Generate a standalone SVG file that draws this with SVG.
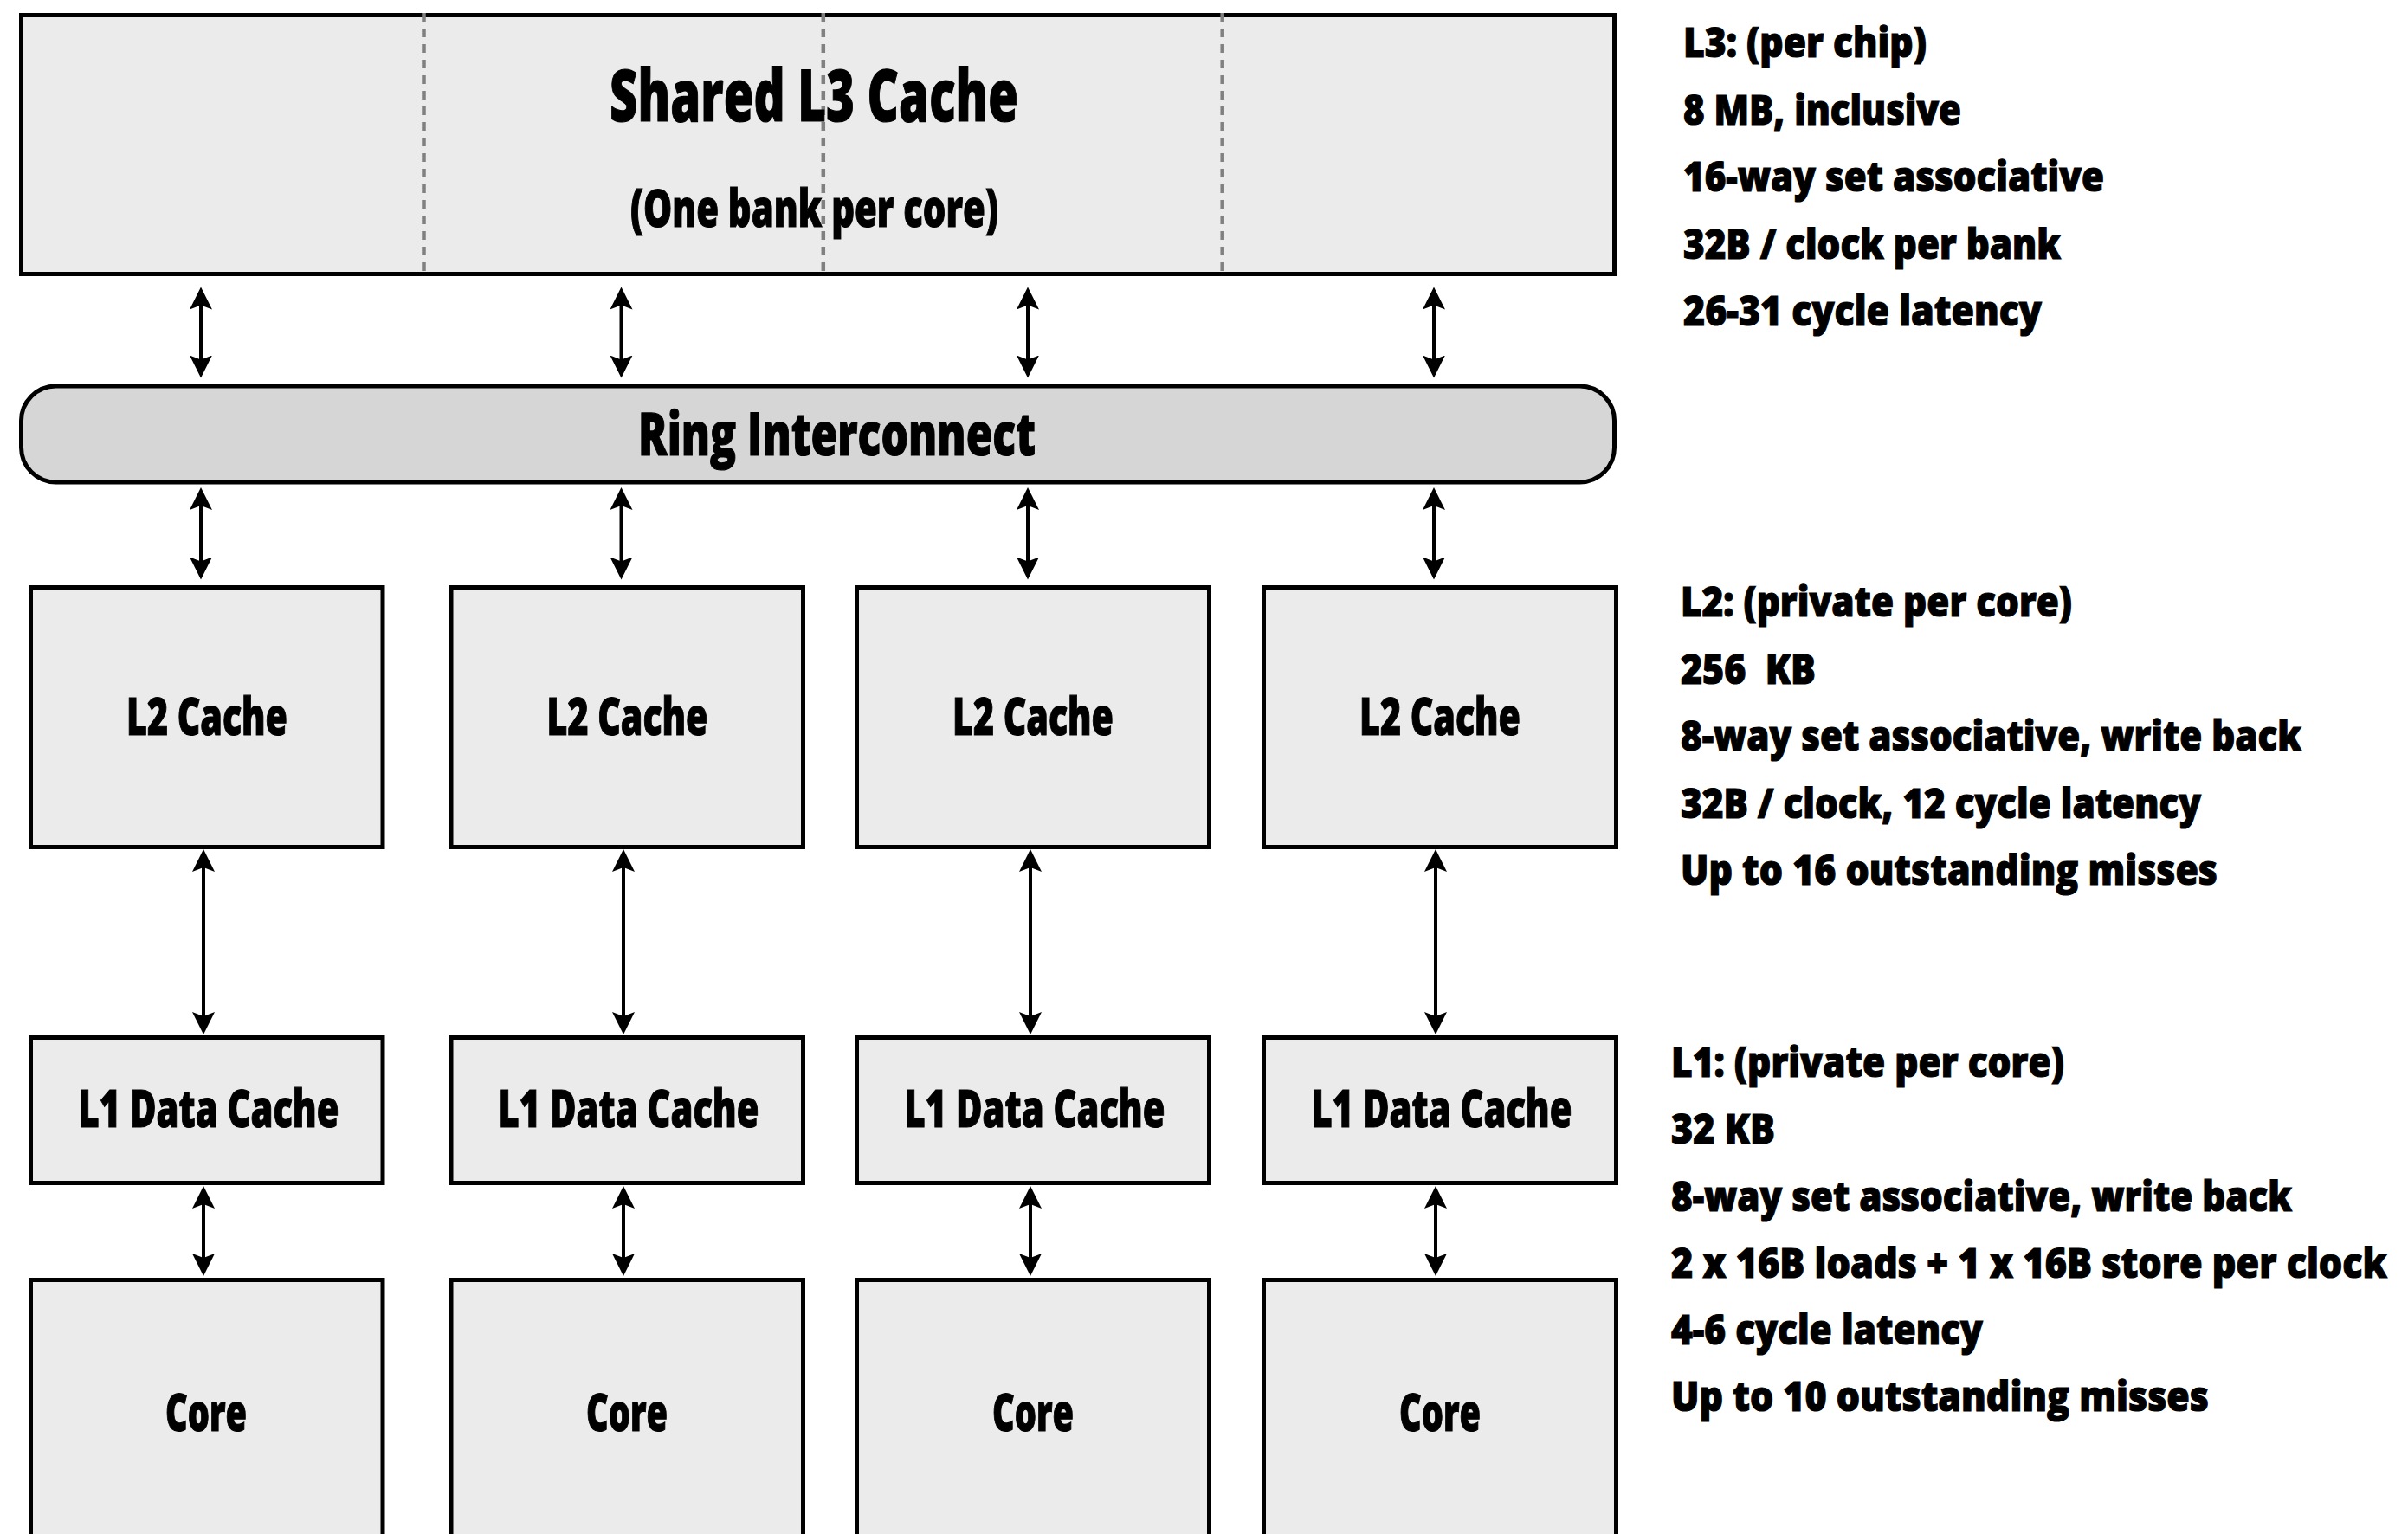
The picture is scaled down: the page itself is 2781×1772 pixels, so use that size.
<svg xmlns="http://www.w3.org/2000/svg" width="2781" height="1772" viewBox="0 0 2781 1772">
<defs>
<style>
.t{font-family:"Open Sans","DejaVu Sans Condensed","DejaVu Sans",sans-serif;font-weight:800;fill:#000;stroke:#000;stroke-width:1.2px;}
.c{text-anchor:middle;}
.box{fill:#ebebeb;stroke:#000;stroke-width:5;}
.ring{fill:#d6d6d6;stroke:#000;stroke-width:5;}
.dash{stroke:#808080;stroke-width:4.5;stroke-dasharray:10 8;fill:none;}
.conn{stroke:#000;stroke-width:4;fill:none;marker-start:url(#ah);marker-end:url(#ah);}
.side{font-size:48px;}
</style>
<marker id="ah" viewBox="0 0 26 26" markerWidth="26" markerHeight="26" refX="11" refY="13" markerUnits="userSpaceOnUse" orient="auto-start-reverse">
<path d="M0,0 L26,13 L0,26 L5,13 Z" fill="#000"/>
</marker>
</defs>
<rect width="2781" height="1772" fill="#fff"/>

<g id="l3">
<rect class="box" x="24.5" y="17.5" width="1840" height="299"/>
<line class="dash" x1="489.5" y1="15" x2="489.5" y2="320"/>
<line class="dash" x1="950.8" y1="15" x2="950.8" y2="320"/>
<line class="dash" x1="1411.7" y1="15" x2="1411.7" y2="320"/>
<text class="t c" x="940" y="140" font-size="83" textLength="472" lengthAdjust="spacingAndGlyphs">Shared L3 Cache</text>
<text class="t c" x="940.4" y="262" font-size="60" textLength="425" lengthAdjust="spacingAndGlyphs">(One bank per core)</text>
</g>

<g id="ring">
<rect class="ring" x="24.5" y="446" width="1840" height="111" rx="40" ry="40"/>
<text class="t" x="737" y="526" font-size="69" textLength="459" lengthAdjust="spacingAndGlyphs">Ring Interconnect</text>
</g>

<g id="l2-1"><rect class="box" x="35.5" y="678.5" width="406.5" height="300"/><text class="t c" x="239" y="849" font-size="61" textLength="186" lengthAdjust="spacingAndGlyphs">L2 Cache</text></g>
<g id="l2-2"><rect class="box" x="521" y="678.5" width="406.5" height="300"/><text class="t c" x="724.5" y="849" font-size="61" textLength="186" lengthAdjust="spacingAndGlyphs">L2 Cache</text></g>
<g id="l2-3"><rect class="box" x="989.5" y="678.5" width="407" height="300"/><text class="t c" x="1193" y="849" font-size="61" textLength="186" lengthAdjust="spacingAndGlyphs">L2 Cache</text></g>
<g id="l2-4"><rect class="box" x="1459.5" y="678.5" width="407" height="300"/><text class="t c" x="1663" y="849" font-size="61" textLength="186" lengthAdjust="spacingAndGlyphs">L2 Cache</text></g>

<g id="l1-1"><rect class="box" x="35.5" y="1198.5" width="406.5" height="168"/><text class="t c" x="241" y="1302" font-size="61" textLength="301" lengthAdjust="spacingAndGlyphs">L1 Data Cache</text></g>
<g id="l1-2"><rect class="box" x="521" y="1198.5" width="406.5" height="168"/><text class="t c" x="726" y="1302" font-size="61" textLength="301" lengthAdjust="spacingAndGlyphs">L1 Data Cache</text></g>
<g id="l1-3"><rect class="box" x="989.5" y="1198.5" width="407" height="168"/><text class="t c" x="1195" y="1302" font-size="61" textLength="301" lengthAdjust="spacingAndGlyphs">L1 Data Cache</text></g>
<g id="l1-4"><rect class="box" x="1459.5" y="1198.5" width="407" height="168"/><text class="t c" x="1665" y="1302" font-size="61" textLength="301" lengthAdjust="spacingAndGlyphs">L1 Data Cache</text></g>

<g id="core-1"><rect class="box" x="35.5" y="1478.5" width="406.5" height="400"/><text class="t c" x="238" y="1653" font-size="60" textLength="94" lengthAdjust="spacingAndGlyphs">Core</text></g>
<g id="core-2"><rect class="box" x="521" y="1478.5" width="406.5" height="400"/><text class="t c" x="724" y="1653" font-size="60" textLength="94" lengthAdjust="spacingAndGlyphs">Core</text></g>
<g id="core-3"><rect class="box" x="989.5" y="1478.5" width="407" height="400"/><text class="t c" x="1193" y="1653" font-size="60" textLength="94" lengthAdjust="spacingAndGlyphs">Core</text></g>
<g id="core-4"><rect class="box" x="1459.5" y="1478.5" width="407" height="400"/><text class="t c" x="1663" y="1653" font-size="60" textLength="94" lengthAdjust="spacingAndGlyphs">Core</text></g>

<g id="connectors">
<line class="conn" x1="232" y1="346.5" x2="232" y2="421.5"/>
<line class="conn" x1="717.5" y1="346.5" x2="717.5" y2="421.5"/>
<line class="conn" x1="1187" y1="346.5" x2="1187" y2="421.5"/>
<line class="conn" x1="1656" y1="346.5" x2="1656" y2="421.5"/>
<line class="conn" x1="232" y1="578" x2="232" y2="654.5"/>
<line class="conn" x1="717.5" y1="578" x2="717.5" y2="654.5"/>
<line class="conn" x1="1187" y1="578" x2="1187" y2="654.5"/>
<line class="conn" x1="1656" y1="578" x2="1656" y2="654.5"/>
<line class="conn" x1="235" y1="996" x2="235" y2="1180"/>
<line class="conn" x1="720" y1="996" x2="720" y2="1180"/>
<line class="conn" x1="1190" y1="996" x2="1190" y2="1180"/>
<line class="conn" x1="1658" y1="996" x2="1658" y2="1180"/>
<line class="conn" x1="235" y1="1385" x2="235" y2="1459"/>
<line class="conn" x1="720" y1="1385" x2="720" y2="1459"/>
<line class="conn" x1="1190" y1="1385" x2="1190" y2="1459"/>
<line class="conn" x1="1658" y1="1385" x2="1658" y2="1459"/>
</g>

<g id="l3-notes">
<text class="t side" x="1944" y="66" textLength="281" lengthAdjust="spacingAndGlyphs">L3: (per chip)</text>
<text class="t side" x="1944" y="143.5" textLength="321" lengthAdjust="spacingAndGlyphs">8 MB, inclusive</text>
<text class="t side" x="1944" y="221" textLength="486" lengthAdjust="spacingAndGlyphs">16-way set associative</text>
<text class="t side" x="1944" y="298.5" textLength="436" lengthAdjust="spacingAndGlyphs">32B / clock per bank</text>
<text class="t side" x="1944" y="376" textLength="414" lengthAdjust="spacingAndGlyphs">26-31 cycle latency</text>
</g>

<g id="l2-notes">
<text class="t side" x="1941" y="712" textLength="452" lengthAdjust="spacingAndGlyphs">L2: (private per core)</text>
<text class="t side" x="1941" y="789.5" textLength="156" lengthAdjust="spacingAndGlyphs" xml:space="preserve">256  KB</text>
<text class="t side" x="1941" y="867" textLength="717" lengthAdjust="spacingAndGlyphs">8-way set associative, write back</text>
<text class="t side" x="1941" y="944.5" textLength="601" lengthAdjust="spacingAndGlyphs">32B / clock, 12 cycle latency</text>
<text class="t side" x="1941" y="1022" textLength="620" lengthAdjust="spacingAndGlyphs">Up to 16 outstanding misses</text>
</g>

<g id="l1-notes">
<text class="t side" x="1930" y="1244" textLength="454" lengthAdjust="spacingAndGlyphs">L1: (private per core)</text>
<text class="t side" x="1930" y="1321" textLength="120" lengthAdjust="spacingAndGlyphs">32 KB</text>
<text class="t side" x="1930" y="1398.5" textLength="717" lengthAdjust="spacingAndGlyphs">8-way set associative, write back</text>
<text class="t side" x="1930" y="1475.5" textLength="827" lengthAdjust="spacingAndGlyphs">2 x 16B loads + 1 x 16B store per clock</text>
<text class="t side" x="1930" y="1553" textLength="360" lengthAdjust="spacingAndGlyphs">4-6 cycle latency</text>
<text class="t side" x="1930" y="1630" textLength="621" lengthAdjust="spacingAndGlyphs">Up to 10 outstanding misses</text>
</g>
</svg>
